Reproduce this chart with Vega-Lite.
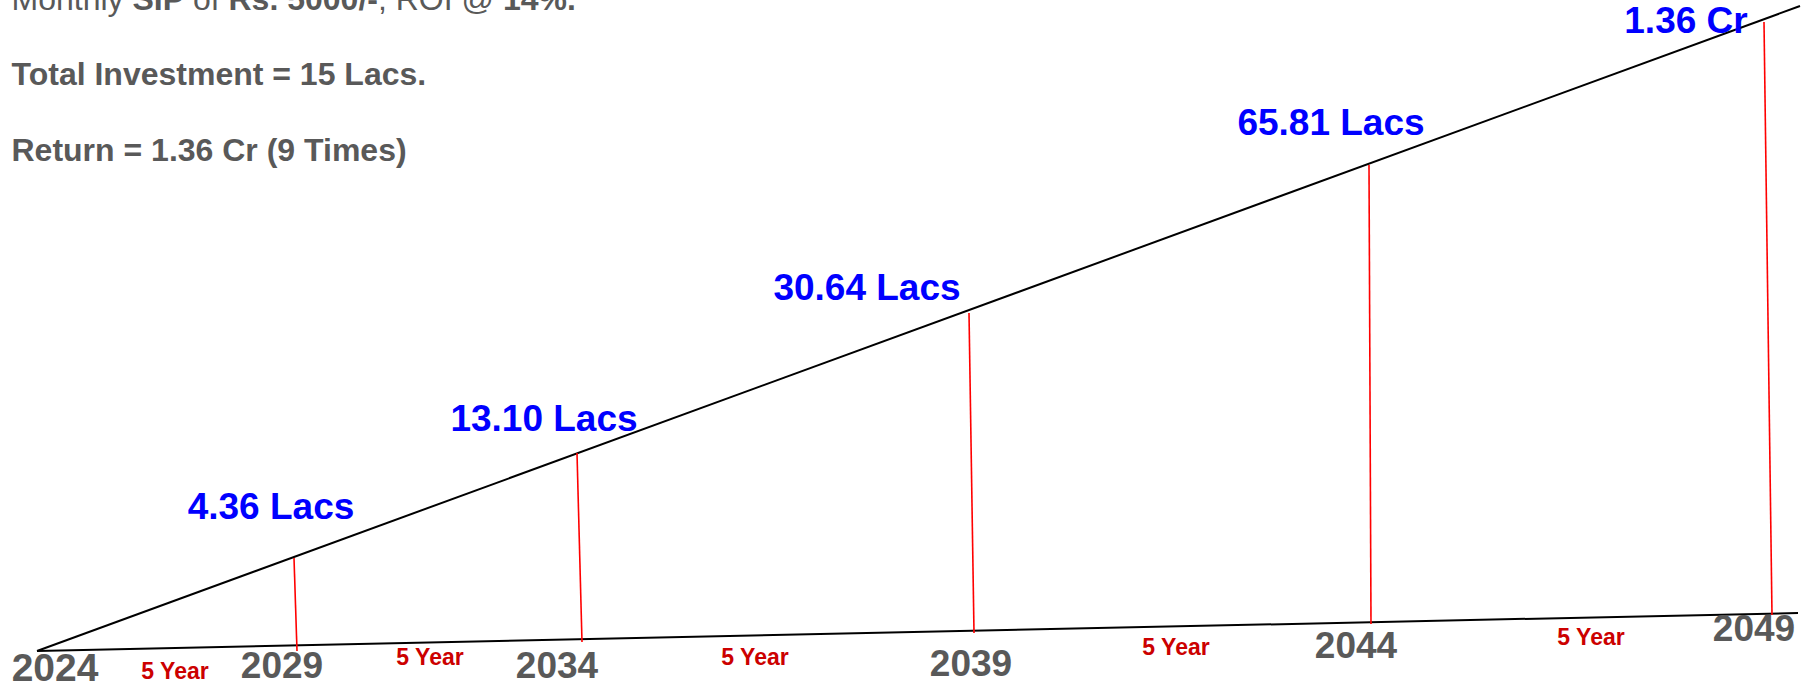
{
  "$schema": "https://vega.github.io/schema/vega-lite/v6.json",
  "width": 1808,
  "height": 686,
  "autosize": {"type": "none"},
  "padding": 0,
  "background": "white",
  "config": {"view": {"stroke": null}, "font": "Liberation Sans"},
  "datasets": {
    "black": [
      {"x": 37, "y": 651, "x2": 1800, "y2": 6},
      {"x": 37, "y": 651, "x2": 1798, "y2": 613}
    ],
    "red": [
      {"x": 294, "y": 558, "x2": 297, "y2": 651},
      {"x": 577, "y": 453, "x2": 582, "y2": 642},
      {"x": 969, "y": 313, "x2": 974, "y2": 633},
      {"x": 1369, "y": 165, "x2": 1371, "y2": 624},
      {"x": 1764, "y": 22, "x2": 1772, "y2": 615}
    ],
    "values": [
      {"label": "4.36 Lacs", "x": 271, "y": 519},
      {"label": "13.10 Lacs", "x": 544, "y": 431},
      {"label": "30.64 Lacs", "x": 867, "y": 300},
      {"label": "65.81 Lacs", "x": 1331, "y": 135},
      {"label": "1.36 Cr", "x": 1686, "y": 33}
    ],
    "firstYear": [
      {"label": "2024", "x": 55, "y": 681}
    ],
    "years": [
      {"label": "2029", "x": 282, "y": 678},
      {"label": "2034", "x": 557, "y": 678},
      {"label": "2039", "x": 971, "y": 676},
      {"label": "2044", "x": 1356, "y": 658},
      {"label": "2049", "x": 1754, "y": 641}
    ],
    "spans": [
      {"label": "5 Year", "x": 175, "y": 679},
      {"label": "5 Year", "x": 430, "y": 665},
      {"label": "5 Year", "x": 755, "y": 665},
      {"label": "5 Year", "x": 1176, "y": 655},
      {"label": "5 Year", "x": 1591, "y": 645}
    ],
    "headRegular": [
      {"label": "Monthly", "x": 11.5, "y": 10},
      {"label": "of", "x": 192.9, "y": 10},
      {"label": ", ROI @", "x": 377.9, "y": 10}
    ],
    "headBold": [
      {"label": "SIP", "x": 132.4, "y": 10},
      {"label": "Rs. 5000/-", "x": 228.5, "y": 10},
      {"label": "14%.", "x": 502.9, "y": 10},
      {"label": "Total Investment = 15 Lacs.", "x": 11.5, "y": 85},
      {"label": "Return = 1.36 Cr (9 Times)", "x": 11.5, "y": 161}
    ]
  },
  "encoding": {
    "x": {"field": "x", "type": "quantitative", "axis": null, "scale": {"domain": [0, 1808], "nice": false, "zero": false}},
    "y": {"field": "y", "type": "quantitative", "axis": null, "scale": {"domain": [0, 686], "nice": false, "zero": false, "reverse": true}}
  },
  "layer": [
    {
      "data": {"name": "black"},
      "mark": {"type": "rule", "color": "#000000", "strokeWidth": 2},
      "encoding": {"x2": {"field": "x2"}, "y2": {"field": "y2"}}
    },
    {
      "data": {"name": "red"},
      "mark": {"type": "rule", "color": "#ff0000", "strokeWidth": 1.6},
      "encoding": {"x2": {"field": "x2"}, "y2": {"field": "y2"}}
    },
    {
      "data": {"name": "values"},
      "mark": {"type": "text", "color": "#0000ff", "fontWeight": "bold", "fontSize": 37, "align": "center", "baseline": "alphabetic"},
      "encoding": {"text": {"field": "label"}}
    },
    {
      "data": {"name": "firstYear"},
      "mark": {"type": "text", "color": "#595959", "fontWeight": "bold", "fontSize": 39, "align": "center", "baseline": "alphabetic"},
      "encoding": {"text": {"field": "label"}}
    },
    {
      "data": {"name": "years"},
      "mark": {"type": "text", "color": "#595959", "fontWeight": "bold", "fontSize": 37, "align": "center", "baseline": "alphabetic"},
      "encoding": {"text": {"field": "label"}}
    },
    {
      "data": {"name": "spans"},
      "mark": {"type": "text", "color": "#cc0000", "fontWeight": "bold", "fontSize": 23, "align": "center", "baseline": "alphabetic"},
      "encoding": {"text": {"field": "label"}}
    },
    {
      "data": {"name": "headRegular"},
      "mark": {"type": "text", "color": "#595959", "fontWeight": "normal", "fontSize": 32, "align": "left", "baseline": "alphabetic"},
      "encoding": {"text": {"field": "label"}}
    },
    {
      "data": {"name": "headBold"},
      "mark": {"type": "text", "color": "#595959", "fontWeight": "bold", "fontSize": 32, "align": "left", "baseline": "alphabetic"},
      "encoding": {"text": {"field": "label"}}
    }
  ]
}
